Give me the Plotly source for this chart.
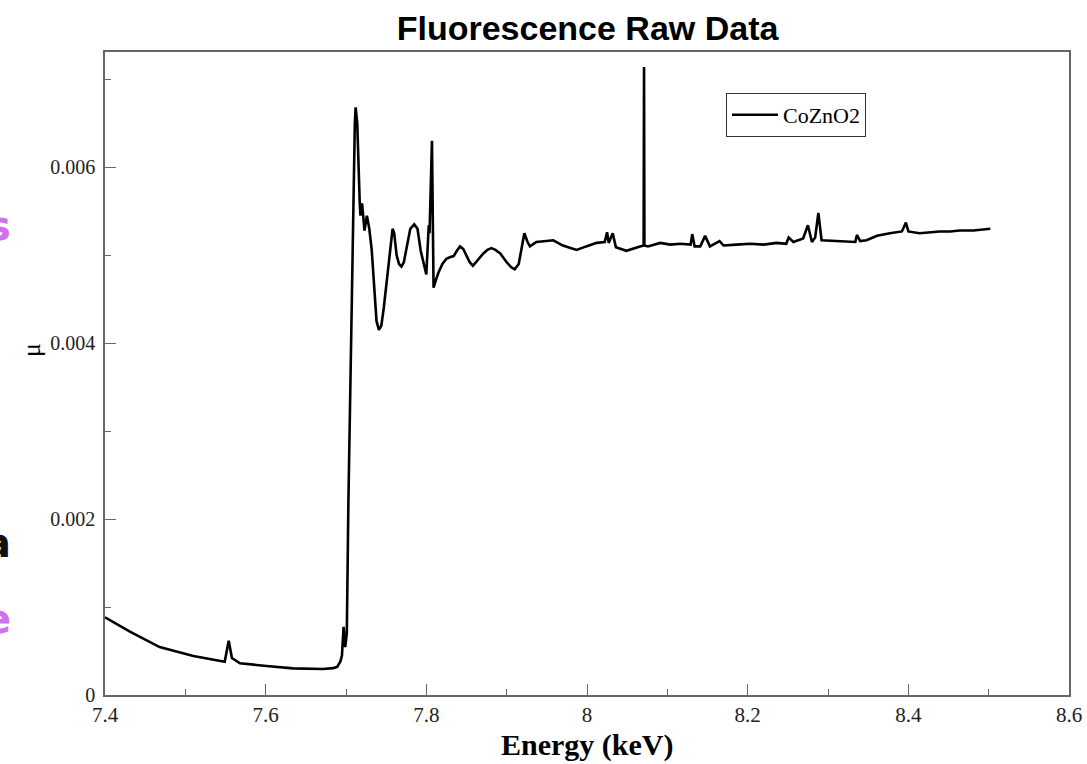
import plotly.graph_objects as go

energy = [7.400, 7.431, 7.468, 7.510, 7.549, 7.552, 7.554, 7.558, 7.568, 7.601,
          7.634, 7.671, 7.684, 7.689, 7.693, 7.695, 7.697, 7.699, 7.701, 7.703,
          7.706, 7.709, 7.711, 7.712, 7.714, 7.717, 7.718, 7.720, 7.723, 7.726,
          7.729, 7.732, 7.734, 7.736, 7.738, 7.741, 7.744, 7.747, 7.751, 7.755,
          7.758, 7.760, 7.763, 7.766, 7.769, 7.772, 7.776, 7.780, 7.785, 7.789,
          7.793, 7.797, 7.800, 7.803, 7.804, 7.807, 7.809, 7.812, 7.815, 7.820,
          7.825, 7.830, 7.834, 7.838, 7.842, 7.846, 7.850, 7.854, 7.858, 7.864,
          7.871, 7.876, 7.881, 7.886, 7.892, 7.900, 7.906, 7.910, 7.915, 7.919,
          7.922, 7.926, 7.929, 7.937, 7.947, 7.958, 7.970, 7.987, 7.999, 8.012,
          8.022, 8.025, 8.027, 8.032, 8.036, 8.049, 8.066, 8.0705, 8.071, 8.0715,
          8.076, 8.091, 8.104, 8.116, 8.129, 8.131, 8.134, 8.141, 8.147, 8.153,
          8.165, 8.170, 8.186, 8.203, 8.220, 8.236, 8.248, 8.251, 8.257, 8.269,
          8.275, 8.280, 8.284, 8.288, 8.292, 8.308, 8.323, 8.334, 8.336, 8.340,
          8.348, 8.361, 8.377, 8.392, 8.397, 8.400, 8.414, 8.426, 8.439, 8.452,
          8.464, 8.481, 8.493, 8.502]

mu = [0.000883, 0.000720, 0.000545, 0.000443, 0.000379, 0.000500, 0.000617, 0.000420, 0.000360, 0.000330,
      0.000303, 0.000295, 0.000305, 0.000320, 0.000380, 0.000450, 0.000776, 0.000545, 0.000700, 0.002200,
      0.004000, 0.005650, 0.006500, 0.006680, 0.006500, 0.005620, 0.005450, 0.005590, 0.005280, 0.005450,
      0.005300, 0.005060, 0.004800, 0.004500, 0.004250, 0.004150, 0.004200, 0.004400, 0.004750, 0.005100,
      0.005300, 0.005250, 0.005000, 0.004900, 0.004870, 0.004920, 0.005100, 0.005300, 0.005350, 0.005300,
      0.005050, 0.004900, 0.004780, 0.005340, 0.005250, 0.006300, 0.004630, 0.004720, 0.004800, 0.004900,
      0.004960, 0.004980, 0.004990, 0.005050, 0.005100, 0.005070, 0.005000, 0.004920, 0.004880, 0.004950,
      0.005020, 0.005060, 0.005080, 0.005060, 0.005020, 0.004920, 0.004860, 0.004840, 0.004900, 0.005100,
      0.005250, 0.005150, 0.005100, 0.005150, 0.005160, 0.005170, 0.005110, 0.005060, 0.005100, 0.005140,
      0.005150, 0.005260, 0.005140, 0.005250, 0.005090, 0.005050, 0.005100, 0.005110, 0.007140, 0.005110,
      0.005100, 0.005140, 0.005120, 0.005130, 0.005120, 0.005240, 0.005100, 0.005100, 0.005220, 0.005100,
      0.005160, 0.005110, 0.005120, 0.005130, 0.005120, 0.005140, 0.005130, 0.005200, 0.005150, 0.005190,
      0.005340, 0.005150, 0.005200, 0.005480, 0.005170, 0.005160, 0.005150, 0.005150, 0.005230, 0.005160,
      0.005170, 0.005220, 0.005250, 0.005270, 0.005370, 0.005270, 0.005250, 0.005260, 0.005270, 0.005270,
      0.005280, 0.005280, 0.005290, 0.005300]

series_name = "CoZnO2"
title_text = "Fluorescence Raw Data"
x_title = "Energy (keV)"
y_title = "μ"
x_tickvals = [7.4, 7.6, 7.8, 8.0, 8.2, 8.4, 8.6]
x_ticktext = ["7.4", "7.6", "7.8", "8", "8.2", "8.4", "8.6"]
y_tickvals = [0, 0.002, 0.004, 0.006]
y_ticktext = ["0", "0.002", "0.004", "0.006"]

fig = go.Figure()
fig.add_trace(go.Scatter(x=energy, y=mu, mode="lines", name=series_name,
                         line=dict(color="black", width=2.6)))

axis_color = "#666666"
serif = "Liberation Serif, Times New Roman, serif"

L, R, T, B = 105, 18, 52, 69
PW, PH = 1087 - L - R, 764 - T - B

fig.update_layout(
    width=1087, height=764,
    margin=dict(l=L, r=R, t=T, b=B, autoexpand=False),
    paper_bgcolor="white", plot_bgcolor="white",
    title=dict(text="<b>" + title_text + "</b>", x=0.5405, xanchor="center", y=1 - 28 / 764, yanchor="middle",
               font=dict(family="Liberation Sans, Arial, sans-serif", size=34, color="black")),
    showlegend=True,
    legend=dict(x=(726 - L) / PW, y=(764 - B - 93) / PH, xanchor="left", yanchor="top",
                bordercolor="#333333", borderwidth=1, bgcolor="white",
                font=dict(family=serif, size=22, color="black"),
                itemwidth=46, tracegroupgap=0),
    xaxis=dict(range=[7.4, 8.6], showgrid=False, zeroline=False, automargin=False,
               showline=True, linecolor=axis_color, linewidth=1.6, mirror=True,
               ticks="inside", ticklen=11, tickwidth=1.2, tickcolor=axis_color,
               tickvals=x_tickvals, ticktext=x_ticktext,
               tickfont=dict(family=serif, size=21, color="#222222"),
               minor=dict(ticks="inside", ticklen=6, tickwidth=1.2, tickcolor=axis_color, dtick=0.1,
                          tick0=7.4, showgrid=False)),
    yaxis=dict(range=[0, 0.00731], showgrid=False, zeroline=False, automargin=False,
               showline=True, linecolor=axis_color, linewidth=1.6, mirror=True,
               ticks="inside", ticklen=11, tickwidth=1.2, tickcolor=axis_color,
               tickvals=y_tickvals, ticktext=y_ticktext, ticklabelstandoff=4,
               tickfont=dict(family=serif, size=20, color="#222222"),
               minor=dict(ticks="inside", ticklen=6, tickwidth=1.2, tickcolor=axis_color, dtick=0.001,
                          tick0=0, showgrid=False)),
)

# axis titles
fig.add_annotation(text="<b>" + x_title + "</b>", xref="paper", yref="paper",
                   x=0.5, y=(764 - B - 745) / PH, xanchor="center", yanchor="middle", showarrow=False,
                   font=dict(family=serif, size=30, color="black"))
fig.add_annotation(text=y_title, xref="paper", yref="paper", textangle=-90,
                   x=(31 - L) / PW, y=(764 - B - 350) / PH, xanchor="center", yanchor="middle", showarrow=False,
                   font=dict(family=serif, size=26, color="black"))

# partial text fragments visible (cut off) at the left edge of the reference
fragments = [("s", 226, "#d070f0"), ("a", 543, "#111111"), ("e", 619, "#d070f0")]
for txt, ypx, col in fragments:
    fig.add_annotation(text="<b>" + txt + "</b>", xref="paper", yref="paper",
                       x=(13 - L) / PW, y=(764 - B - ypx) / PH, xanchor="right", yanchor="middle", showarrow=False,
                       font=dict(family="DejaVu Sans, sans-serif", size=40, color=col))

fig.write_html("out.html")
